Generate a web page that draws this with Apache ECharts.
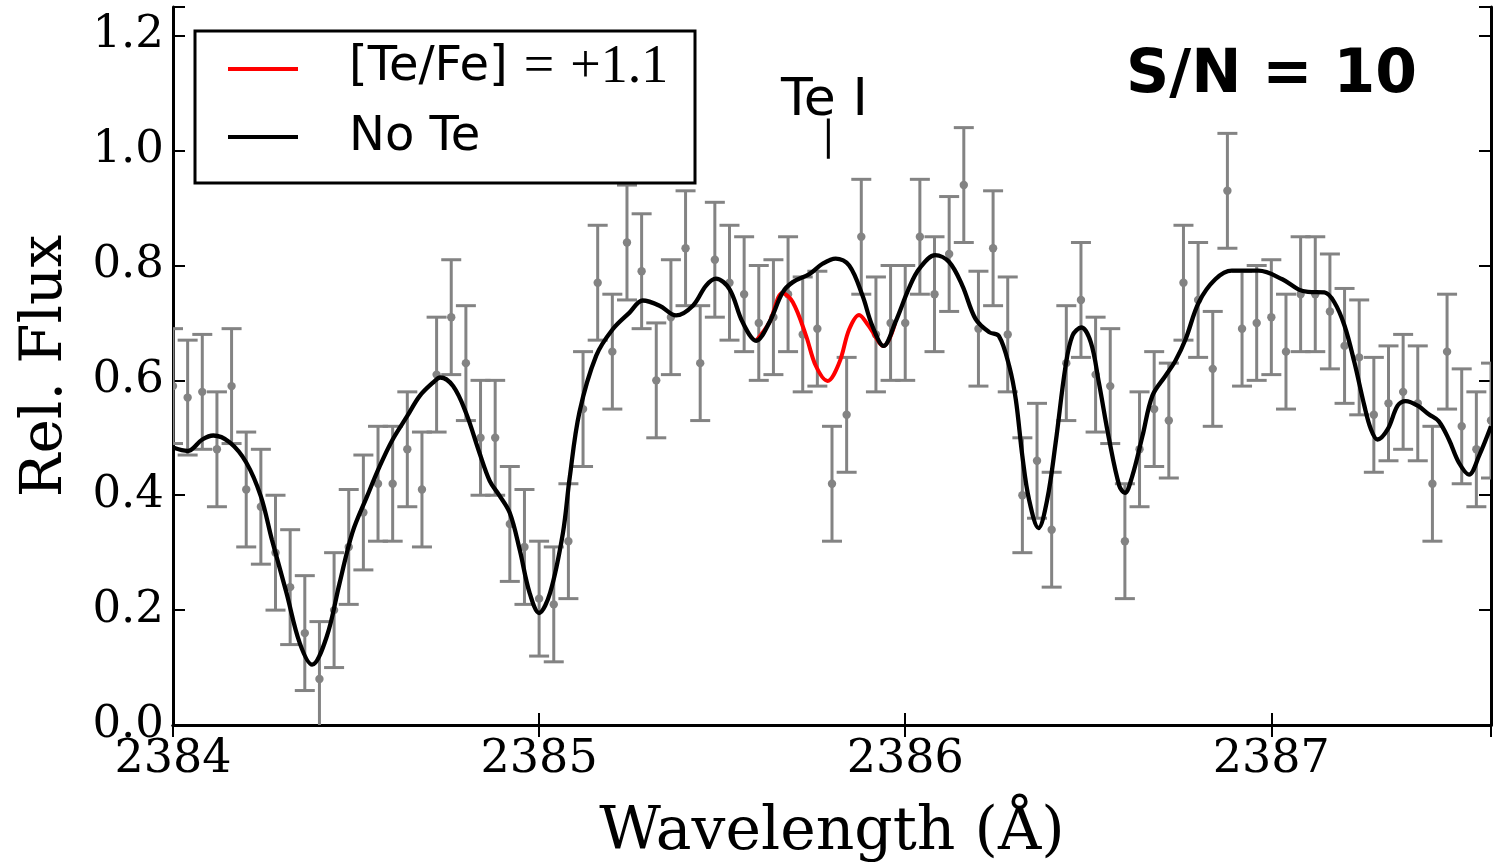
<!DOCTYPE html>
<html><head><meta charset="utf-8">
<script src="https://cdn.jsdelivr.net/npm/echarts@6/dist/echarts.min.js"></script>
<style>html,body{margin:0;padding:0;background:#fff}#c{width:1493px;height:863px}</style>
</head><body><div id="c"></div>
<script>
// Observed spectrum (S/N = 10)
const obsWave = [2384.00,2384.04,2384.08,2384.12,2384.16,2384.20,2384.24,2384.28,2384.32,2384.36,
  2384.40,2384.44,2384.48,2384.52,2384.56,2384.60,2384.64,2384.68,2384.72,2384.76,
  2384.80,2384.84,2384.88,2384.92,2384.96,2385.00,2385.04,2385.08,2385.12,2385.16,
  2385.20,2385.24,2385.28,2385.32,2385.36,2385.40,2385.44,2385.48,2385.52,2385.56,
  2385.60,2385.64,2385.68,2385.72,2385.76,2385.80,2385.84,2385.88,2385.92,2385.96,
  2386.00,2386.04,2386.08,2386.12,2386.16,2386.20,2386.24,2386.28,2386.32,2386.36,
  2386.40,2386.44,2386.48,2386.52,2386.56,2386.60,2386.64,2386.68,2386.72,2386.76,
  2386.80,2386.84,2386.88,2386.92,2386.96,2387.00,2387.04,2387.08,2387.12,2387.16,
  2387.20,2387.24,2387.28,2387.32,2387.36,2387.40,2387.44,2387.48,2387.52,2387.56,2387.60];
const obsFlux = [0.59,0.57,0.58,0.48,0.59,0.41,0.38,0.30,0.24,0.16,
  0.08,0.20,0.31,0.37,0.42,0.42,0.48,0.41,0.61,0.71,
  0.63,0.50,0.50,0.35,0.31,0.22,0.21,0.32,0.55,0.77,
  0.65,0.84,0.79,0.60,0.71,0.83,0.63,0.81,0.77,0.75,
  0.70,0.71,0.75,0.68,0.69,0.42,0.54,0.85,0.68,0.70,
  0.70,0.85,0.75,0.82,0.94,0.69,0.83,0.68,0.40,0.46,
  0.34,0.63,0.74,0.61,0.59,0.32,0.48,0.55,0.53,0.77,
  0.74,0.62,0.93,0.69,0.70,0.71,0.65,0.75,0.75,0.72,
  0.66,0.64,0.54,0.56,0.58,0.56,0.42,0.65,0.52,0.48,0.53];
const obsError = 0.1;

// Synthetic spectrum without Te
const noTeWave = [2384.00,2384.04,2384.08,2384.11,2384.155,2384.20,2384.24,2384.27,2384.31,2384.346,
  2384.38,2384.42,2384.455,2384.49,2384.53,2384.565,2384.60,2384.64,2384.674,2384.71,
  2384.73,2384.765,2384.80,2384.837,2384.865,2384.89,2384.92,2384.947,2384.974,2385.00,
  2385.03,2385.065,2385.083,2385.11,2385.156,2385.201,2385.247,2385.283,2385.329,2385.374,
  2385.42,2385.456,2385.483,2385.52,2385.556,2385.593,2385.629,2385.665,2385.693,2385.738,
  2385.774,2385.81,2385.847,2385.883,2385.91,2385.941,2385.973,2386.01,2386.038,2386.082,
  2386.12,2386.156,2386.192,2386.229,2386.256,2386.284,2386.302,2386.32,2386.338,2386.364,
  2386.388,2386.411,2386.438,2386.457,2386.481,2386.507,2386.529,2386.557,2386.585,2386.60,
  2386.62,2386.648,2386.675,2386.711,2386.738,2386.766,2386.802,2386.847,2386.892,2386.965,
  2387.03,2387.075,2387.10,2387.145,2387.172,2387.20,2387.227,2387.254,2387.272,2387.29,
  2387.318,2387.345,2387.367,2387.40,2387.43,2387.457,2387.485,2387.512,2387.54,2387.567,2387.60];
const noTeFlux = [0.483,0.477,0.497,0.504,0.492,0.457,0.398,0.323,0.230,0.143,
  0.105,0.154,0.247,0.335,0.398,0.451,0.497,0.538,0.573,0.596,
  0.605,0.590,0.544,0.474,0.425,0.401,0.369,0.305,0.230,0.195,
  0.230,0.334,0.428,0.544,0.643,0.689,0.718,0.739,0.730,0.713,
  0.730,0.765,0.777,0.759,0.701,0.669,0.701,0.753,0.771,0.785,
  0.803,0.812,0.800,0.748,0.695,0.660,0.701,0.760,0.794,0.818,
  0.806,0.765,0.707,0.684,0.677,0.625,0.567,0.468,0.393,0.343,
  0.393,0.492,0.625,0.678,0.692,0.666,0.596,0.497,0.416,0.404,
  0.433,0.503,0.573,0.608,0.634,0.672,0.736,0.776,0.791,0.791,
  0.776,0.758,0.754,0.753,0.736,0.695,0.631,0.556,0.515,0.497,
  0.515,0.556,0.564,0.556,0.541,0.529,0.497,0.457,0.436,0.468,0.520];

// Synthetic spectrum with [Te/Fe] = +1.1 (differs only near the Te I line)
const teWave = [2385.593,2385.629,2385.665,2385.693,2385.729,2385.756,2385.788,2385.82,2385.847,2385.874,2385.90,2385.941,2385.973];
const teFlux = [0.669,0.701,0.752,0.736,0.678,0.625,0.599,0.631,0.689,0.714,0.695,0.660,0.701];

// Te I line marker
const teLineWave = 2385.79;
const teLineFlux = [0.986, 1.056];

const xTicks = [2384, 2385, 2386, 2387];
const yTicks = [0.0, 0.2, 0.4, 0.6, 0.8, 1.0, 1.2];

const zip = (a, b) => a.map((v, i) => [v, b[i]]);
const obsData = obsWave.map((w, i) => [w, obsFlux[i], obsError]);

const chart = echarts.init(document.getElementById('c'), null, {renderer: 'canvas'});
const serif = '"DejaVu Serif", serif';
const sans = '"DejaVu Sans", sans-serif';
const mathSerif = '"Liberation Serif", serif';

function isTick(list, v) { return list.some(t => Math.abs(t - v) < 1e-6); }

const axisCommonX = {
  type: 'value', min: 2384, max: 2387.6, interval: 1,
  splitLine: {show: false},
  axisLine: {show: true, lineStyle: {color: '#000', width: 3}},
  axisTick: {show: true, inside: true, length: 12, lineStyle: {color: '#000', width: 2}}
};
const axisCommonY = {
  type: 'value', min: 0, max: 1.25, interval: 0.2,
  splitLine: {show: false},
  axisLine: {show: true, lineStyle: {color: '#000', width: 3}},
  axisTick: {show: true, inside: true, length: 12, lineStyle: {color: '#000', width: 2}}
};

chart.setOption({
  animation: false,
  backgroundColor: '#fff',
  grid: {left: 173, right: 2, top: 7, bottom: 138, containLabel: false, outerBoundsMode: 'none'},
  xAxis: [
    Object.assign({}, axisCommonX, {
      position: 'bottom',
      name: 'Wavelength (Å)', nameLocation: 'middle', nameGap: 78,
      nameTextStyle: {fontFamily: serif, fontSize: 60, color: '#000'},
      axisLabel: {show: true, margin: 12, fontFamily: serif, fontSize: 46, color: '#000',
        showMinLabel: true, showMaxLabel: true,
        formatter: v => isTick(xTicks, v) ? String(Math.round(v)) : ''}
    }),
    Object.assign({}, axisCommonX, {position: 'top', axisLabel: {show: false}})
  ],
  yAxis: [
    Object.assign({}, axisCommonY, {
      position: 'left',
      name: 'Rel. Flux', nameLocation: 'middle', nameGap: 98,
      nameTextStyle: {fontFamily: serif, fontSize: 58, color: '#000'},
      axisLabel: {show: true, margin: 9, fontFamily: serif, fontSize: 45, color: '#000',
        showMinLabel: true,
        formatter: v => isTick(yTicks, v) ? v.toFixed(1) : ''}
    }),
    Object.assign({}, axisCommonY, {position: 'right', axisLabel: {show: false}})
  ],
  series: [
    {
      type: 'custom', name: 'data', clip: true, z: 2,
      data: obsData,
      renderItem: function (params, api) {
        const x = api.value(0), y = api.value(1), e = api.value(2);
        const top = api.coord([x, y + e]);
        const bot = api.coord([x, y - e]);
        const mid = api.coord([x, y]);
        const cap = 10;
        const st = {stroke: '#838383', lineWidth: 3};
        return {type: 'group', children: [
          {type: 'line', shape: {x1: top[0], y1: top[1], x2: bot[0], y2: bot[1]}, style: st},
          {type: 'line', shape: {x1: top[0] - cap, y1: top[1], x2: top[0] + cap, y2: top[1]}, style: st},
          {type: 'line', shape: {x1: bot[0] - cap, y1: bot[1], x2: bot[0] + cap, y2: bot[1]}, style: st},
          {type: 'circle', shape: {cx: mid[0], cy: mid[1], r: 4.2}, style: {fill: '#838383'}}
        ]};
      }
    },
    {
      type: 'line', name: '[Te/Fe] = +1.1', data: zip(teWave, teFlux), smooth: 0.35,
      showSymbol: false, symbol: 'none', clip: true, z: 3,
      lineStyle: {color: '#ff0000', width: 4}
    },
    {
      type: 'line', name: 'No Te', data: zip(noTeWave, noTeFlux), smooth: 0.35,
      showSymbol: false, symbol: 'none', clip: true, z: 4,
      lineStyle: {color: '#000000', width: 4.3}
    },
    {
      type: 'line', name: 'Te I marker', data: teLineFlux.map(f => [teLineWave, f]),
      showSymbol: false, symbol: 'none', z: 4,
      lineStyle: {color: '#000000', width: 3}
    }
  ]
});

const pTop = chart.convertToPixel({xAxisIndex: 0, yAxisIndex: 0}, [teLineWave, teLineFlux[1]]);

chart.setOption({
  graphic: [
    {type: 'rect', z: 100, shape: {x: 195, y: 31, width: 500, height: 152},
      style: {fill: '#fff', stroke: '#000', lineWidth: 3}},
    {type: 'line', z: 101, shape: {x1: 228, y1: 69, x2: 298, y2: 69},
      style: {stroke: '#ff0000', lineWidth: 4}},
    {type: 'line', z: 101, shape: {x1: 228, y1: 137, x2: 298, y2: 137},
      style: {stroke: '#000', lineWidth: 4}},
    {type: 'text', z: 101, style: {
      x: 349, y: 68, align: 'left', verticalAlign: 'middle',
      text: '{a|[Te/Fe]}{e|=}{b|+1.1}',
      rich: {
        a: {font: '48px ' + sans, fill: '#000'},
        e: {font: '54px ' + mathSerif, fill: '#000', padding: [0, 16, 0, 16]},
        b: {font: '54px ' + mathSerif, fill: '#000'}
      }
    }},
    {type: 'text', z: 101, style: {
      x: 349, y: 138, align: 'left', verticalAlign: 'middle',
      text: 'No Te', font: '48px ' + sans, fill: '#000'
    }},
    {type: 'text', z: 101, style: {
      x: 1126, y: 76, align: 'left', verticalAlign: 'middle',
      text: 'S/N = 10', font: 'bold 60px ' + sans, fill: '#000'
    }},
    {type: 'text', z: 101, style: {
      x: pTop[0] - 4, y: pTop[1] - 17, align: 'center', verticalAlign: 'middle',
      text: 'Te I', font: '52px ' + sans, fill: '#000'
    }}
  ]
});
</script>
</body></html>
